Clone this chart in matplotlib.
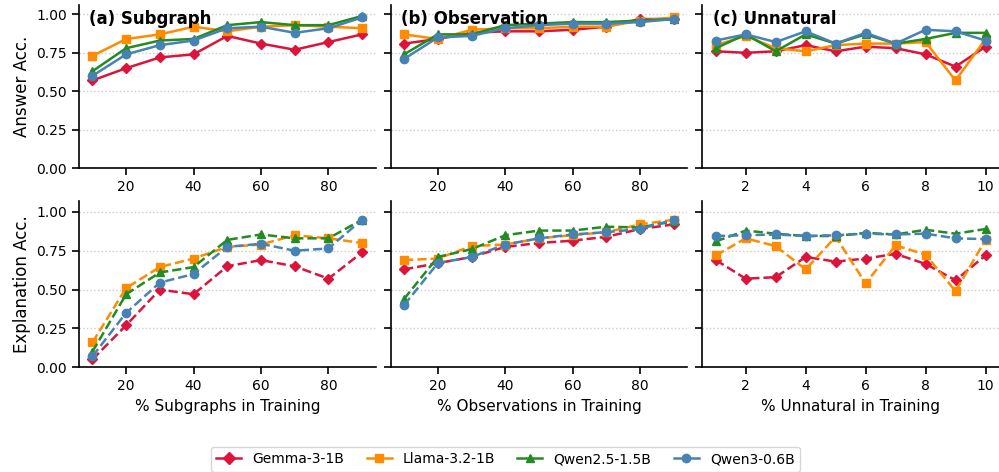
import numpy as np
import matplotlib
matplotlib.use("Agg")
import matplotlib.pyplot as plt
from matplotlib.lines import Line2D

models = ["Gemma-3-1B", "Llama-3.2-1B", "Qwen2.5-1.5B", "Qwen3-0.6B"]
colors = ["#DC143C", "#FF8C00", "#228B22", "#4682B4"]
markers = ["D", "s", "^", "o"]

pct = [10, 20, 30, 40, 50, 60, 70, 80, 90]
unnat = [1, 2, 3, 4, 5, 6, 7, 8, 9, 10]

# answer accuracy
ans_sub = [
    [0.57, 0.65, 0.72, 0.74, 0.86, 0.81, 0.77, 0.82, 0.87],
    [0.73, 0.84, 0.87, 0.92, 0.89, 0.92, 0.93, 0.92, 0.91],
    [0.63, 0.78, 0.83, 0.84, 0.93, 0.95, 0.93, 0.93, 0.99],
    [0.60, 0.74, 0.80, 0.83, 0.91, 0.92, 0.88, 0.91, 0.98],
]
ans_obs = [
    [0.81, 0.84, 0.88, 0.89, 0.89, 0.90, 0.92, 0.97, 0.97],
    [0.87, 0.84, 0.90, 0.91, 0.91, 0.92, 0.92, 0.96, 0.98],
    [0.74, 0.87, 0.87, 0.93, 0.94, 0.95, 0.95, 0.96, 0.97],
    [0.71, 0.85, 0.86, 0.91, 0.93, 0.94, 0.94, 0.95, 0.97],
]
ans_unn = [
    [0.76, 0.75, 0.76, 0.80, 0.76, 0.79, 0.78, 0.74, 0.66, 0.79],
    [0.80, 0.86, 0.78, 0.76, 0.80, 0.81, 0.81, 0.82, 0.57, 0.84],
    [0.78, 0.87, 0.76, 0.87, 0.81, 0.87, 0.81, 0.84, 0.88, 0.88],
    [0.83, 0.87, 0.82, 0.89, 0.81, 0.88, 0.81, 0.90, 0.89, 0.83],
]

# explanation accuracy
exp_sub = [
    [0.05, 0.27, 0.50, 0.47, 0.65, 0.69, 0.65, 0.57, 0.74],
    [0.16, 0.51, 0.645, 0.70, 0.775, 0.79, 0.85, 0.83, 0.80],
    [0.10, 0.47, 0.61, 0.645, 0.82, 0.855, 0.83, 0.83, 0.95],
    [0.07, 0.35, 0.545, 0.60, 0.775, 0.795, 0.75, 0.765, 0.95],
]
exp_obs = [
    [0.63, 0.67, 0.71, 0.775, 0.80, 0.815, 0.84, 0.89, 0.92],
    [0.69, 0.70, 0.78, 0.79, 0.83, 0.85, 0.87, 0.92, 0.95],
    [0.44, 0.71, 0.76, 0.85, 0.88, 0.88, 0.905, 0.90, 0.94],
    [0.40, 0.67, 0.71, 0.79, 0.83, 0.855, 0.87, 0.89, 0.95],
]
exp_unn = [
    [0.69, 0.57, 0.58, 0.71, 0.68, 0.70, 0.73, 0.665, 0.56, 0.72],
    [0.72, 0.83, 0.78, 0.63, 0.84, 0.54, 0.785, 0.725, 0.49, 0.82],
    [0.81, 0.88, 0.86, 0.845, 0.845, 0.865, 0.855, 0.885, 0.86, 0.89],
    [0.845, 0.85, 0.855, 0.845, 0.85, 0.86, 0.855, 0.86, 0.83, 0.825],
]

titles = ["(a) Subgraph", "(b) Observation", "(c) Unnatural"]
xlabels = ["% Subgraphs in Training", "% Observations in Training", "% Unnatural in Training"]

fig = plt.figure(figsize=(9.99, 4.72), dpi=100)
lefts = [0.079, 0.391, 0.703]
w = 0.297
rows = [(0.644, 0.345), (0.222, 0.352)]

top = [ans_sub, ans_obs, ans_unn]
bot = [exp_sub, exp_obs, exp_unn]
xs = [pct, pct, unnat]

for r in range(2):
    data = top if r == 0 else bot
    ls = "-" if r == 0 else "--"
    for c in range(3):
        ax = fig.add_axes([lefts[c], rows[r][0], w, rows[r][1]])
        for i in range(4):
            ax.plot(xs[c], data[c][i], color=colors[i], marker=markers[i], ls=ls,
                    lw=1.8, ms=6 if markers[i] != "D" else 5.5, label=models[i])
        ax.set_ylim(0, 1.06 if r == 0 else 1.07)
        ax.set_yticks([0, 0.25, 0.5, 0.75, 1.0])
        ax.yaxis.set_major_formatter(matplotlib.ticker.FormatStrFormatter("%.2f"))
        if c == 2:
            ax.set_xticks([2, 4, 6, 8, 10])
        else:
            ax.set_xticks([20, 40, 60, 80])
        ax.grid(axis="y", ls=":", color="#cccccc", lw=1)
        ax.set_axisbelow(True)
        for s in ["top", "right"]:
            ax.spines[s].set_visible(False)
        ax.spines["left"].set_linewidth(1.2)
        ax.spines["bottom"].set_linewidth(1.2)
        ax.tick_params(labelsize=10, length=5, width=1.2)
        if c > 0:
            ax.tick_params(labelleft=False)
        else:
            ax.set_ylabel("Answer Acc." if r == 0 else "Explanation Acc.", fontsize=12)
        if r == 0:
            ax.text(0.035, 0.97, titles[c], transform=ax.transAxes, fontsize=12,
                    fontweight="bold", va="top", ha="left")
        else:
            ax.set_xlabel(xlabels[c], fontsize=11)

handles = [Line2D([], [], color=colors[i], marker=markers[i], lw=1.8, ms=6) for i in range(4)]
fig.legend(handles, models, loc="center", bbox_to_anchor=(0.506, 0.027), ncol=4,
           fontsize=10, frameon=True, columnspacing=1.6, handlelength=1.8)

fig.savefig("out.png", dpi=100)
